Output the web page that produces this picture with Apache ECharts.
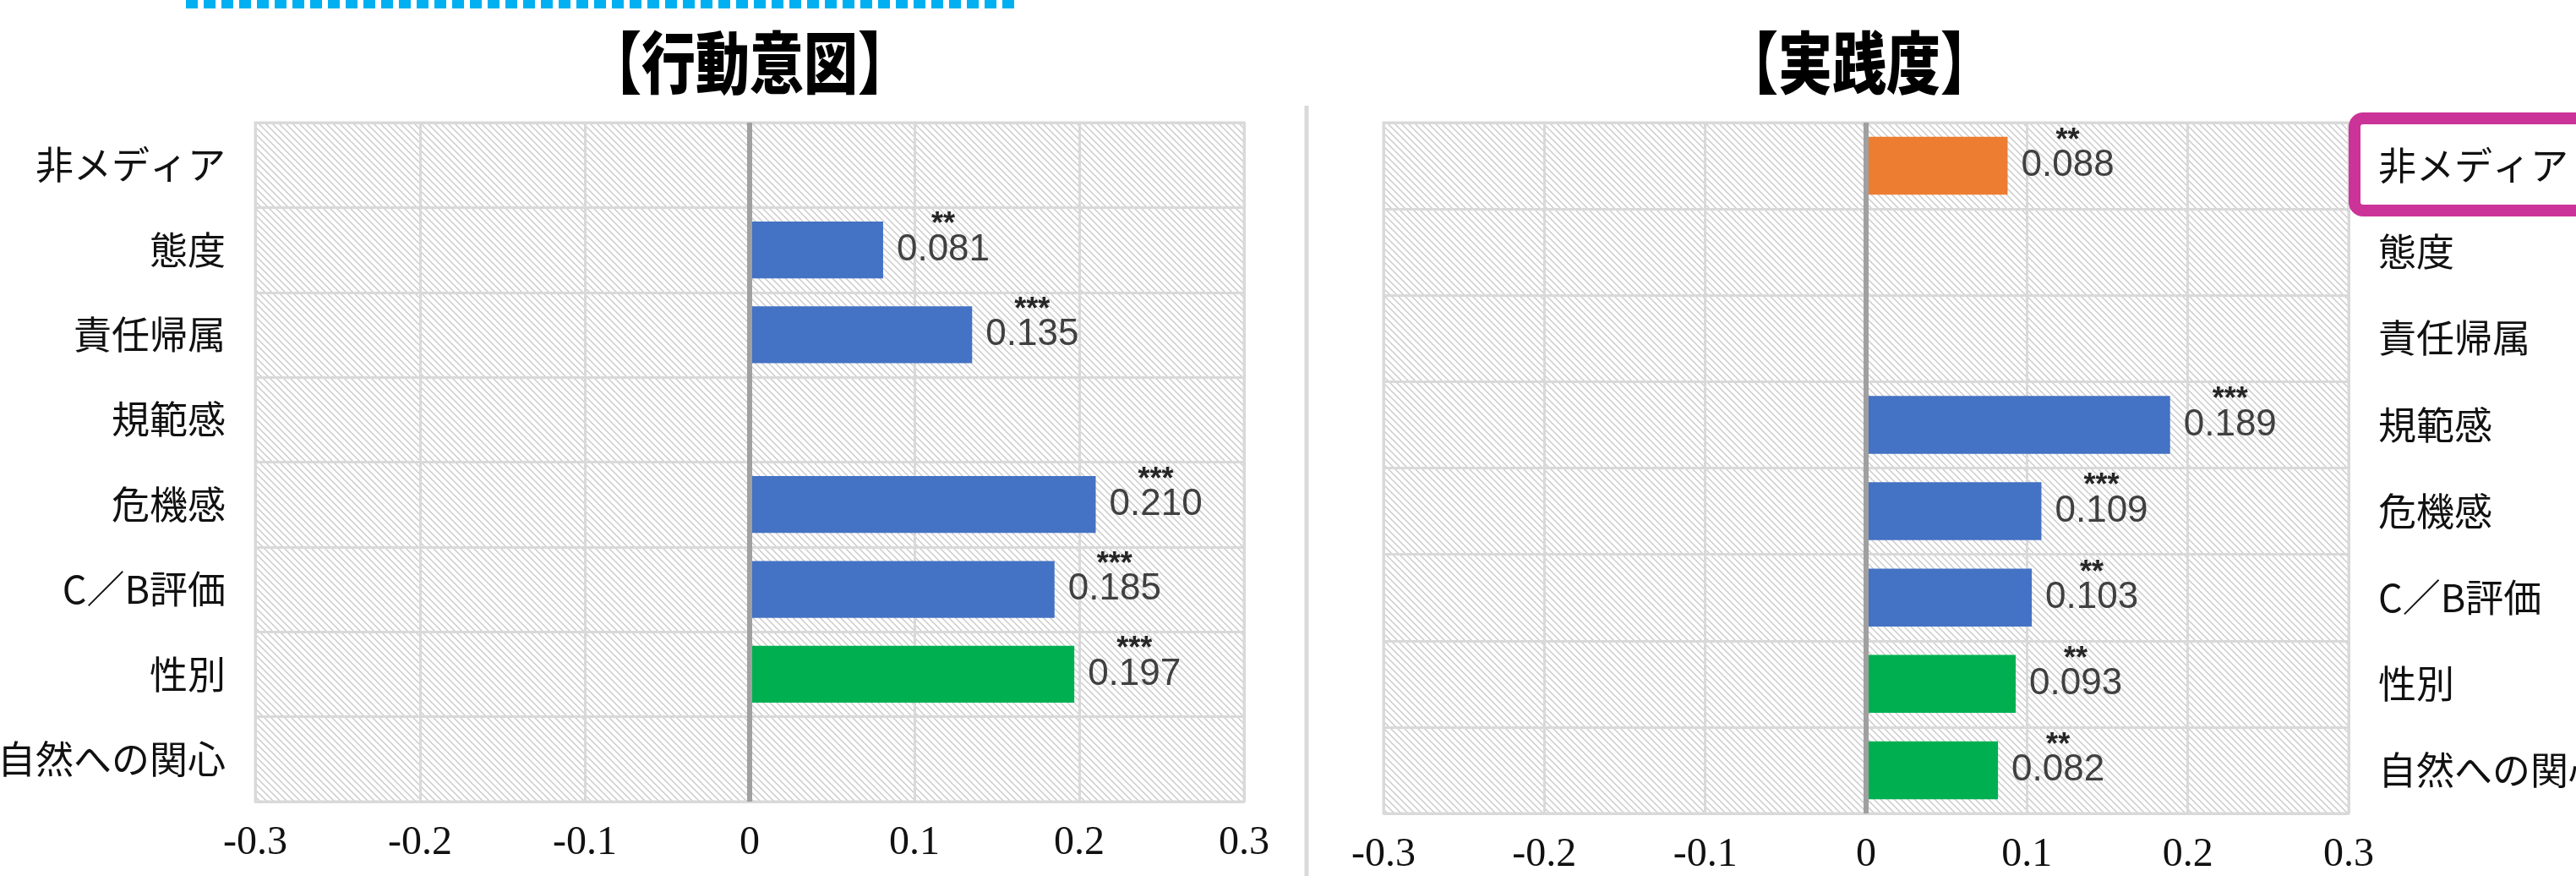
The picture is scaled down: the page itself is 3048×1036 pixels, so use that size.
<!DOCTYPE html>
<html>
<head>
<meta charset="utf-8">
<script src="https://cdn.jsdelivr.net/npm/echarts@6/dist/echarts.min.js"></script>
<style>
  html, body { margin: 0; padding: 0; background: #fff; }
  #chart { width: 3048px; height: 1036px; }
</style>
</head>
<body>
<div id="chart"></div>
<script>
// 項目（上から順）
const categories = ['非メディア', '態度', '責任帰属', '規範感', '危機感', 'C／B評価', '性別', '自然への関心'];
// 行動意図の係数と有意水準
const intentValues = [null, 0.081, 0.135, null, 0.210, 0.185, 0.197, null];
const intentStars = ['', '**', '***', '', '***', '***', '***', ''];
// 実践度の係数と有意水準
const practiceValues = [0.088, null, null, 0.189, 0.109, 0.103, 0.093, 0.082];
const practiceStars = ['**', '', '', '***', '***', '**', '**', '**'];
// 項目グループ
const groups = ['media', 'psych', 'psych', 'psych', 'psych', 'psych', 'attr', 'attr'];
const xTicks = [-0.3, -0.2, -0.1, 0, 0.1, 0.2, 0.3];
const titles = ['【行動意図】', '【実践度】'];

const groupColors = { media: '#ed7d31', psych: '#4472c4', attr: '#00b050' };

// 斜線ハッチ
function makeHatch() {
  const c = document.createElement('canvas');
  c.width = 8; c.height = 8;
  const ctx = c.getContext('2d');
  ctx.fillStyle = '#ffffff';
  ctx.fillRect(0, 0, 8, 8);
  ctx.strokeStyle = '#cccccc';
  ctx.lineWidth = 1.5;
  ctx.beginPath();
  ctx.moveTo(0, 0); ctx.lineTo(8, 8);
  ctx.moveTo(-1, 7); ctx.lineTo(1, 9);
  ctx.moveTo(7, -1); ctx.lineTo(9, 1);
  ctx.stroke();
  return { image: c, repeat: 'repeat' };
}
const hatch = makeHatch();

const chart = echarts.init(document.getElementById('chart'));

function barData(values) {
  return values.map((v, i) => ({
    value: v,
    itemStyle: { color: groupColors[groups[i]] },
  }));
}

function barSeries(values, stars, idx) {
  return {
    type: 'bar',
    xAxisIndex: idx,
    yAxisIndex: idx,
    data: barData(values),
    barCategoryGap: '33%',
    label: {
      show: true,
      position: 'right',
      distance: 16,
      offset: [0, -6],
      formatter: (p) => p.value == null ? '' : `{s|${stars[p.dataIndex]}}\n{v|${p.value.toFixed(3)}}`,
      rich: {
        s: { fontSize: 36, fontWeight: 'bold', lineHeight: 12, align: 'center', color: '#262626', fontFamily: 'Liberation Sans' },
        v: { fontSize: 44, lineHeight: 46, color: '#404040', fontFamily: 'Liberation Sans' },
      },
    },
    markLine: {
      silent: true,
      symbol: 'none',
      label: { show: false },
      lineStyle: { color: '#a0a0a0', width: 6, type: 'solid' },
      data: [{ xAxis: 0 }],
    },
  };
}

function valueAxis(idx) {
  return {
    type: 'value',
    gridIndex: idx,
    min: -0.3,
    max: 0.3,
    interval: 0.1,
    axisLine: { show: false },
    axisTick: { show: false },
    splitLine: { lineStyle: { color: '#d9d9d9', width: 3 } },
    axisLabel: {
      margin: 25,
      fontSize: 48,
      color: '#111',
      fontFamily: 'Liberation Serif',
      formatter: (v) => {
        const t = xTicks.find(x => Math.abs(x - v) < 1e-6);
        return String(t !== undefined ? t : +v.toFixed(1));
      },
    },
  };
}

function catAxis(idx, pos) {
  return {
    type: 'category',
    gridIndex: idx,
    data: categories,
    inverse: true,
    position: pos,
    axisLine: { show: false, onZero: false },
    axisTick: { show: false },
    splitLine: { show: true, lineStyle: { color: '#d9d9d9', width: 3 } },
    axisLabel: {
      margin: 35,
      fontSize: 45,
      color: '#111',
      fontFamily: 'Noto Sans CJK JP',
    },
  };
}

function titleText(text, x) {
  return {
    type: 'text', z: 10,
    x: x, y: 74, scaleX: 0.8,
    style: {
      text: text, fill: '#000', fontSize: 80, fontWeight: 900,
      fontFamily: 'Noto Sans CJK JP', align: 'center', verticalAlign: 'middle',
    },
  };
}

const option = {
  backgroundColor: '#ffffff',
  animation: false,
  grid: [
    { left: 302, right: 3048 - 1472, top: 145, height: 803, outerBoundsMode: 'none', show: true, backgroundColor: hatch, borderColor: '#d9d9d9', borderWidth: 3 },
    { left: 1637, right: 3048 - 2779, top: 145, height: 817, outerBoundsMode: 'none', show: true, backgroundColor: hatch, borderColor: '#d9d9d9', borderWidth: 3 },
  ],
  xAxis: [valueAxis(0), valueAxis(1)],
  yAxis: [catAxis(0, 'left'), catAxis(1, 'right')],
  series: [
    barSeries(intentValues, intentStars, 0),
    barSeries(practiceValues, practiceStars, 1),
  ],
  graphic: [
    titleText(titles[0], 887),
    titleText(titles[1], 2200),
    // 上部の点線（切れた枠）
    {
      type: 'line', z: 10,
      shape: { x1: 220, y1: 5, x2: 1202, y2: 5 },
      style: { stroke: '#00b0f0', lineWidth: 10, lineDash: [14, 7] },
    },
    // 区切り線
    {
      type: 'line', z: 10,
      shape: { x1: 1546, y1: 125, x2: 1546, y2: 1036 },
      style: { stroke: '#d9d9d9', lineWidth: 5 },
    },
    // 強調枠
    {
      type: 'rect', z: 10,
      shape: { x: 2786, y: 140, width: 400, height: 109, r: 10 },
      style: { fill: null, stroke: '#cc3399', lineWidth: 14 },
    },
  ],
};

chart.setOption(option);
</script>
</body>
</html>
